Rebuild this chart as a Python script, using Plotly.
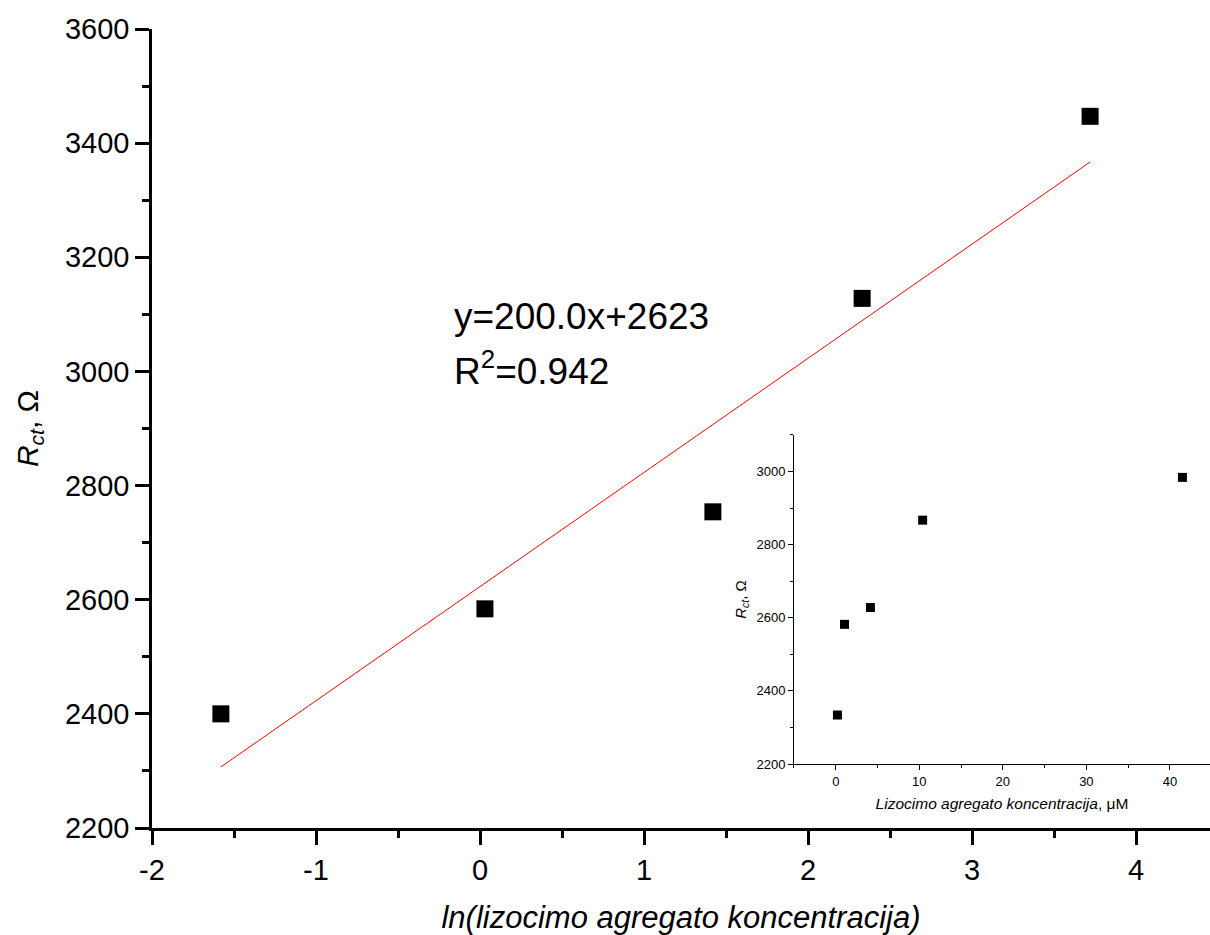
import plotly.graph_objects as go

# Main plot data (ln of concentration vs Rct)
ln_conc = [-1.58, 0.03, 1.42, 2.33, 3.72]
rct_main = [2400, 2584, 2754, 3128, 3447]

# Linear fit parameters from the annotation
slope = 200.0
intercept = 2623
r2 = 0.942

# Inset data (concentration in uM vs Rct)
conc_um = [0.2, 1.05, 4.15, 10.4, 41.5]
rct_inset = [2334, 2582, 2628, 2867, 2984]

# Tick labels of the main x axis (plain hyphen minus as in the original)
main_x_tickvals = [-2, -1, 0, 1, 2, 3, 4]
main_x_ticktext = ["-2", "-1", "0", "1", "2", "3", "4"]

fit_x = [min(ln_conc), max(ln_conc)]
fit_y = [slope * v + intercept for v in fit_x]

FONT = "Arial, Liberation Sans, sans-serif"

fig = go.Figure()
fig.add_trace(go.Scatter(x=fit_x, y=fit_y, mode="lines",
                         line=dict(color="red", width=1), showlegend=False,
                         xaxis="x", yaxis="y"))
fig.add_trace(go.Scatter(x=ln_conc, y=rct_main, mode="markers",
                         marker=dict(symbol="square", size=17, color="black"),
                         showlegend=False, xaxis="x", yaxis="y"))
fig.add_trace(go.Scatter(x=conc_um, y=rct_inset, mode="markers",
                         marker=dict(symbol="square", size=9, color="black"),
                         showlegend=False, xaxis="x2", yaxis="y2"))

fig.update_layout(
    width=1210, height=935,
    margin=dict(l=152, r=0, t=29, b=107),
    paper_bgcolor="white", plot_bgcolor="rgba(0,0,0,0)",
    font=dict(family=FONT, color="black"),
    xaxis=dict(range=[-2, 4.451], domain=[0, 1],
               showgrid=False, zeroline=False, showline=True,
               linecolor="black", linewidth=2.5,
               ticks="outside", ticklen=14, tickwidth=2.5, tickcolor="black",
               tickmode="array", tickvals=main_x_tickvals, ticktext=main_x_ticktext,
               minor=dict(ticks="outside", ticklen=7, tickwidth=2.5,
                          tickcolor="black", dtick=0.5, tick0=0),
               tickfont=dict(size=29, family=FONT),
               title=dict(text="<i>ln(lizocimo agregato koncentracija)</i>",
                          font=dict(size=31, family=FONT), standoff=22)),
    yaxis=dict(range=[2200, 3600], domain=[0, 1],
               showgrid=False, zeroline=False, showline=True,
               linecolor="black", linewidth=2.5,
               ticks="outside", ticklen=14, tickwidth=2.5, tickcolor="black",
               dtick=200, tick0=2200,
               minor=dict(ticks="outside", ticklen=7, tickwidth=2.5,
                          tickcolor="black", dtick=100),
               tickfont=dict(size=29, family=FONT),
               title=dict(text="<i>R<sub>ct</sub></i>, Ω",
                          font=dict(size=30, family=FONT), standoff=18)),
    xaxis2=dict(range=[-5, 44.8], domain=[0.6068, 1.0], anchor="y2",
                showgrid=False, zeroline=False, showline=True,
                linecolor="black", linewidth=1,
                ticks="outside", ticklen=5, tickwidth=1, tickcolor="black",
                dtick=10, tick0=0,
                minor=dict(ticks="outside", ticklen=3, tickwidth=1,
                           tickcolor="black", dtick=5),
                tickfont=dict(size=13, family=FONT),
                title=dict(text="<i>Lizocimo agregato koncentracija</i>, μM",
                           font=dict(size=15.5, family=FONT), standoff=10)),
    yaxis2=dict(range=[2200, 3100], domain=[0.0801, 0.4919], anchor="x2",
                showgrid=False, zeroline=False, showline=True,
                linecolor="black", linewidth=1,
                ticks="outside", ticklen=5, tickwidth=1, tickcolor="black",
                dtick=200, tick0=2200,
                minor=dict(ticks="outside", ticklen=3, tickwidth=1,
                           tickcolor="black", dtick=100),
                tickfont=dict(size=13, family=FONT),
                title=dict(text="<i>R<sub>ct</sub></i>, Ω",
                           font=dict(size=15, family=FONT), standoff=6)),
    annotations=[
        dict(text=f"y={slope:.1f}x+{intercept}", xref="paper", yref="paper",
             x=0.2836, y=0.6408, xanchor="left", yanchor="middle",
             showarrow=False, font=dict(size=37, family=FONT, color="black")),
        dict(text=f"R<sup>2</sup>={r2}", xref="paper", yref="paper",
             x=0.2836, y=0.5757, xanchor="left", yanchor="middle",
             showarrow=False, font=dict(size=37, family=FONT, color="black")),
    ],
)

fig.write_html("out.html")
